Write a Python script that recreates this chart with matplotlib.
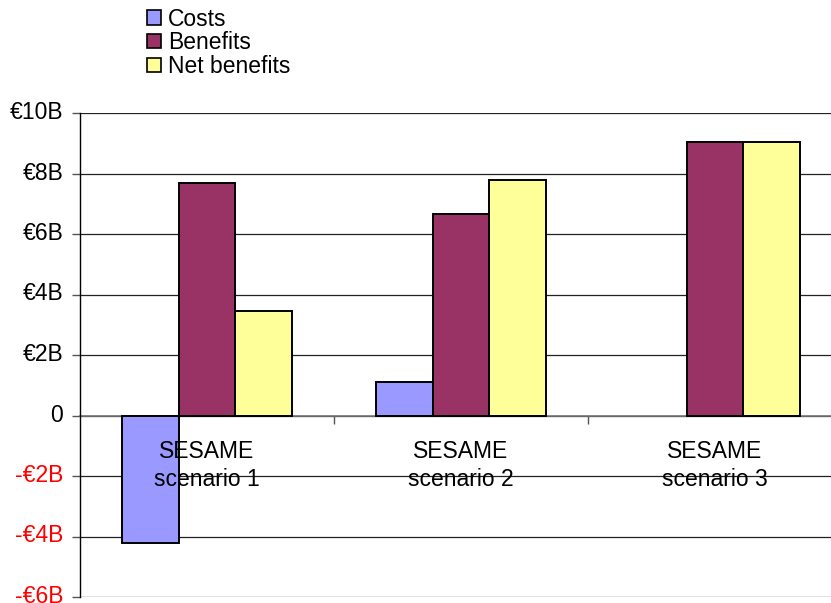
import matplotlib
matplotlib.use("Agg")
import matplotlib.pyplot as plt
from matplotlib.patches import Patch
from matplotlib.transforms import ScaledTranslation
import numpy as np

plt.rcParams['font.family'] = ['Liberation Sans', 'DejaVu Sans']

categories = ["SESAME\nscenario 1", "SESAME\nscenario 2", "SESAME\nscenario 3"]
series_names = ["Costs", "Benefits", "Net benefits"]
costs = [-4.22, 1.12, 0.0]
benefits = [7.7, 6.67, 9.03]
net_benefits = [3.45, 7.8, 9.03]
yticks = [-6, -4, -2, 0, 2, 4, 6, 8, 10]
ytick_labels = ["-€6B", "-€4B", "-€2B", "0", "€2B", "€4B", "€6B", "€8B", "€10B"]

colors = ["#9999FF", "#993366", "#FFFF99"]
FS = 16.5

fig = plt.figure(figsize=(8.31, 6.03), dpi=100)
ax = fig.add_axes([80/831, 6/603, 1 - 80/831, 484/603])

x = np.arange(len(categories))
w = 0.223
for k, (vals, c) in enumerate(zip([costs, benefits, net_benefits], colors)):
    lws = [1.4 if v != 0 else 0 for v in vals]
    ax.bar(x + (k - 1) * w, vals, width=w, color=c, edgecolor="black",
           linewidth=lws, zorder=3)

ax.set_ylim(-6, 10)
ax.set_xlim(-0.5, -0.5 + 751/254)
ax.set_yticks(yticks)
ax.set_yticklabels(ytick_labels, fontsize=FS)
ax.tick_params(axis="y", direction="out", length=6, width=1, color="#555555", pad=6)
ax.yaxis.grid(True, color="#222222", linewidth=0.9, zorder=0)
ax.set_axisbelow(True)

ax.spines["top"].set_visible(False)
ax.spines["right"].set_visible(False)
ax.spines["left"].set_color("black")
ax.spines["left"].set_linewidth(1.0)
ax.spines["bottom"].set_position(("data", 0))
ax.spines["bottom"].set_color("#777777")
ax.spines["bottom"].set_linewidth(1.2)
ax.spines["bottom"].set_zorder(2)

ax.set_xticks([0.5, 1.5])
ax.set_xticklabels(["", ""])
ax.tick_params(axis="x", direction="out", length=6, width=1, color="#555555")

off = ScaledTranslation(0, 3/100, fig.dpi_scale_trans)
for tick, v in zip(ax.yaxis.get_major_ticks(), yticks):
    lbl = tick.label1
    lbl.set_color("red" if v < 0 else "black")
    lbl.set_transform(lbl.get_transform() + off)

for xi, lab in zip(x, categories):
    ax.text(xi, -0.8, lab, ha="center", va="top", fontsize=FS, zorder=5,
            linespacing=1.3)

handles = [Patch(facecolor=c, edgecolor="black", linewidth=1.2) for c in colors]
fig.legend(handles, series_names, loc="upper left", bbox_to_anchor=(131/831, 1.014),
           frameon=False, fontsize=FS, handlelength=0.6, handleheight=0.6,
           handletextpad=0.3, labelspacing=0.03, borderpad=0.2)

fig.savefig("out.png", dpi=100)
